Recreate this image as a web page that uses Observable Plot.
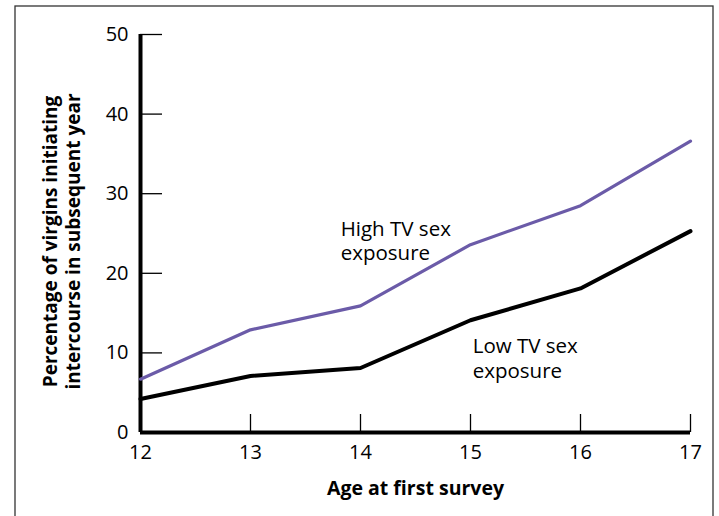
<!DOCTYPE html>
<html>
<head>
<meta charset="utf-8">
<script src="https://cdn.jsdelivr.net/npm/d3@7"></script>
<script src="https://cdn.jsdelivr.net/npm/@observablehq/plot@0.6"></script>
<style>
  html, body { margin: 0; padding: 0; background: #fff; overflow: hidden; }
  svg { font-family: "Open Sans", "Noto Sans", sans-serif; display: block; }
</style>
</head>
<body>
<div id="wrap"></div>
<script>
const ages = [12, 13, 14, 15, 16, 17];
const highTV = [6.7, 12.9, 15.9, 23.6, 28.5, 36.6];
const lowTV = [4.2, 7.1, 8.1, 14.1, 18.1, 25.3];
const yTicks = [0, 10, 20, 30, 40, 50];
const xTicks = [12, 13, 14, 15, 16, 17];
const labels = [
  {age: 13.82, value: 26.9, text: "High TV sex\nexposure"},
  {age: 15.02, value: 12.1, text: "Low TV sex\nexposure"}
];
const yTitle = "Percentage of virgins initiating\nintercourse in subsequent year";
const xTitle = "Age at first survey";

const high = ages.map((a, i) => ({age: a, value: highTV[i]}));
const low = ages.map((a, i) => ({age: a, value: lowTV[i]}));

const chart = Plot.plot({
  width: 719,
  height: 516,
  marginLeft: 140,
  marginRight: 29,
  marginTop: 34,
  marginBottom: 84,
  style: {fontFamily: "'Open Sans', 'Noto Sans', sans-serif", fontSize: "20px", color: "#000", background: "#fff"},
  x: {domain: [12, 17]},
  y: {domain: [0, 50]},
  marks: [
    Plot.frame({stroke: "#333", strokeWidth: 1.3, insetLeft: -125.5, insetTop: -28.5, insetRight: -22.5, insetBottom: -200}),
    Plot.axisY({ticks: yTicks, tickFormat: "d", tickSize: -22, tickPadding: 34, label: null, strokeWidth: 1.3, fontSize: 20}),
    Plot.axisX({ticks: xTicks, tickFormat: "d", tickSize: -18, tickPadding: 30, label: null, strokeWidth: 1.3, fontSize: 20}),
    Plot.ruleX([12], {strokeWidth: 4}),
    Plot.ruleY([0], {strokeWidth: 4}),
    Plot.line(high, {x: "age", y: "value", stroke: "#6b5ba8", strokeWidth: 3.2}),
    Plot.line(low, {x: "age", y: "value", stroke: "#000", strokeWidth: 4}),
    Plot.text(labels, {x: "age", y: "value", text: "text", textAnchor: "start", lineAnchor: "top", fontSize: 20.5, lineHeight: 1.18, fill: "#000"}),
    Plot.text([xTitle], {frameAnchor: "bottom", text: d => d, dy: 62, fontWeight: "bold", fontSize: 19.5, fill: "#000"}),
    Plot.text([yTitle], {frameAnchor: "left", textAnchor: "middle", text: d => d, rotate: -90, dx: -79, dy: 8, fontWeight: "bold", fontSize: 19, lineHeight: 1.2, fill: "#000"})
  ]
});
document.getElementById("wrap").append(chart);
</script>
</body>
</html>
